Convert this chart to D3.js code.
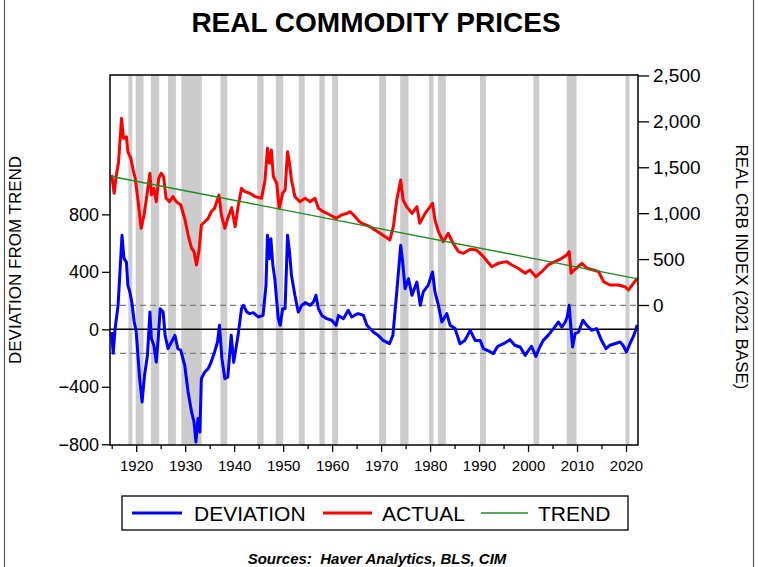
<!DOCTYPE html>
<html>
<head>
<meta charset="utf-8">
<script src="https://cdn.jsdelivr.net/npm/d3@7"></script>
<style>
  body { margin: 0; background: #fff; }
  svg { font-family: "Liberation Sans", Arial, sans-serif; }
</style>
</head>
<body>
<svg id="drawing_region"></svg>
<script>
// deviation from trend (left axis)
const devYears = [1915.0,1915.3,1915.7,1916.3,1917.1,1917.5,1918.0,1918.3,1918.7,1919.1,1919.6,1920.0,1920.7,1921.2,1921.7,1922.3,1922.8,1923.1,1923.6,1924.1,1924.5,1924.9,1925.5,1925.9,1926.5,1927.2,1927.9,1928.5,1929.1,1929.9,1930.6,1931.3,1931.8,1932.2,1932.6,1933.0,1933.3,1934.0,1934.7,1935.3,1936.0,1936.6,1937.0,1937.5,1938.1,1938.7,1939.4,1939.9,1940.8,1941.5,1941.9,1942.6,1943.2,1943.9,1944.9,1945.9,1946.5,1946.8,1947.2,1947.5,1947.9,1948.3,1949.0,1949.4,1949.9,1950.4,1950.9,1951.3,1951.7,1952.4,1953.1,1953.8,1954.5,1955.5,1956.2,1956.7,1957.2,1957.9,1958.9,1959.9,1960.8,1961.3,1962.3,1963.3,1964.0,1964.7,1965.3,1966.4,1967.1,1968.4,1969.4,1970.4,1971.7,1972.4,1973.2,1974.0,1974.4,1974.9,1975.6,1976.3,1977.3,1978.0,1978.6,1979.6,1980.5,1981.0,1981.7,1982.4,1983.4,1984.1,1985.1,1986.1,1987.1,1988.2,1989.2,1990.2,1990.9,1992.2,1992.9,1993.8,1995.0,1996.3,1997.3,1998.4,1999.4,2000.1,2000.7,2001.6,2002.4,2003.1,2004.1,2005.2,2006.2,2006.9,2007.6,2008.0,2008.4,2008.8,2009.1,2009.6,2010.3,2011.2,2012.0,2013.0,2014.0,2015.0,2015.9,2016.7,2017.7,2018.8,2019.4,2020.1,2020.8,2021.6,2022.3];
const devValues = [-19,-167,7,167,654,494,468,306,260,190,51,-19,-341,-505,-320,-181,120,-63,-111,-228,-63,144,120,-42,-134,-88,-42,-134,-146,-250,-436,-575,-645,-784,-621,-714,-343,-297,-274,-228,-158,-88,28,-204,-343,-332,-42,-230,-42,144,167,120,109,116,86,97,306,654,492,631,445,352,74,28,144,144,654,538,376,237,120,167,186,167,190,237,144,97,74,63,28,97,74,132,86,100,109,97,28,-19,-42,-77,-100,-42,260,585,468,283,352,237,329,167,260,306,399,260,167,51,109,28,5,-100,-77,-7,-77,-77,-134,-155,-170,-118,-100,-72,-111,-123,-181,-146,-118,-188,-123,-77,-42,5,51,16,51,86,167,-7,-123,-30,-19,63,28,-7,5,-77,-134,-111,-100,-88,-111,-158,-100,-42,30];

// real CRB index (right axis)
const actYears = [1915.0,1915.5,1915.9,1916.4,1917.0,1917.4,1918.0,1918.3,1918.9,1919.3,1919.8,1920.4,1921.0,1921.6,1922.1,1922.8,1923.1,1923.6,1924.1,1924.6,1925.1,1925.6,1926.1,1926.8,1927.5,1928.2,1929.1,1929.9,1930.6,1931.3,1931.8,1932.3,1932.8,1933.3,1934.0,1934.7,1935.3,1936.0,1936.9,1937.4,1938.1,1938.7,1939.5,1940.2,1940.8,1941.5,1942.2,1943.2,1944.3,1945.6,1946.3,1946.8,1947.2,1947.6,1948.0,1948.7,1949.2,1949.9,1950.4,1950.9,1951.3,1951.7,1952.4,1953.4,1954.5,1955.5,1956.5,1957.2,1958.2,1959.6,1960.9,1961.9,1963.0,1963.7,1964.7,1965.6,1966.5,1967.7,1969.8,1971.8,1972.5,1973.2,1974.0,1974.5,1975.2,1976.3,1977.3,1977.9,1979.0,1980.0,1980.5,1981.0,1981.7,1982.7,1983.7,1984.7,1985.8,1986.8,1988.2,1989.5,1990.9,1992.6,1993.9,1995.6,1996.7,1998.0,1999.4,2000.4,2001.6,2002.8,2004.1,2005.5,2006.9,2007.9,2008.4,2008.8,2009.4,2011.0,2012.0,2013.3,2014.4,2015.4,2016.7,2018.4,2019.8,2020.5,2021.5,2022.4];
const actValues = [1416,1217,1398,1561,2034,1816,1833,1670,1598,1489,1380,1125,835,980,1162,1435,1198,1271,1125,1380,1435,1398,1162,1125,1180,1125,1089,944,762,618,581,436,581,871,907,944,1016,1053,1198,980,835,944,1060,853,1071,1271,1234,1217,1180,1162,1362,1707,1544,1688,1398,1326,1053,1217,1253,1670,1544,1362,1180,1125,1162,1125,1162,1053,1016,980,944,980,998,1016,962,907,880,853,781,708,853,1144,1362,1144,1071,998,1071,890,998,1071,1108,926,799,690,781,672,581,563,608,599,526,417,454,472,436,400,345,381,308,363,436,472,508,545,581,345,381,454,400,381,363,254,218,218,199,163,236,290];

// trend (right axis), a straight line
const trendYears = [1915.0, 2022.4];
const trendValues = [1400, 285];

// recessions, shaded
const recStart = [1918.4,1919.9,1923.0,1926.5,1929.2,1937.2,1944.7,1948.5,1953.2,1957.4,1960.0,1969.6,1973.9,1979.8,1981.6,1990.2,2001.1,2007.9,2019.9];
const recEnd   = [1919.2,1921.5,1924.7,1928.1,1933.4,1938.6,1946.0,1950.0,1954.4,1958.5,1961.2,1971.0,1975.6,1980.7,1983.2,1991.4,2002.3,2009.9,2020.7];

const leftTicks = [-800, -400, 0, 400, 800];
const rightTicks = [0, 500, 1000, 1500, 2000, 2500];
const yearTicks = d3.range(1915, 2021, 5);
const bandLevel = 167;

const width = 759, height = 567;
const margin = {top: 75, right: 121, bottom: 122, left: 110};
const innerW = width - margin.left - margin.right;
const innerH = height - margin.top - margin.bottom;

const svg = d3.select('#drawing_region')
    .attr('width', width)
    .attr('height', height);

// outer frame
svg.append('rect')
    .attr('x', 4.5).attr('y', -2)
    .attr('width', 749).attr('height', height + 4)
    .attr('fill', 'none').attr('stroke', '#555').attr('stroke-width', 1.2);

svg.append('text')
    .attr('x', 376).attr('y', 32)
    .attr('text-anchor', 'middle')
    .style('font-size', '28px').style('font-weight', 'bold')
    .text('REAL COMMODITY PRICES');

const chart = svg.append('g')
    .attr('transform', `translate(${margin.left},${margin.top})`);

const x = d3.scaleLinear().domain([1914.65, 2022.45]).range([0, innerW]);
const yL = d3.scaleLinear().domain([-805, 1770]).range([innerH, 0]);
const yR = d3.scaleLinear().domain([-1525, 2505]).range([innerH, 0]);

chart.append('clipPath').attr('id', 'clip')
    .append('rect').attr('width', innerW).attr('height', innerH);

const plot = chart.append('g').attr('clip-path', 'url(#clip)');

plot.selectAll('.rec')
    .data(recStart.map((s, i) => [s, recEnd[i]]))
    .enter().append('rect')
    .attr('x', d => x(d[0]))
    .attr('width', d => x(d[1]) - x(d[0]))
    .attr('y', 0).attr('height', innerH)
    .attr('fill', '#cccccc');

// +/- band and zero line
[bandLevel, -bandLevel].forEach(v => {
    plot.append('line')
        .attr('x1', 0).attr('x2', innerW)
        .attr('y1', yL(v)).attr('y2', yL(v))
        .attr('stroke', '#808080').attr('stroke-width', 1.2)
        .attr('stroke-dasharray', '6,4');
});
plot.append('line')
    .attr('x1', 0).attr('x2', innerW)
    .attr('y1', yL(0)).attr('y2', yL(0))
    .attr('stroke', '#000').attr('stroke-width', 1.5);

const lineL = d3.line().x(d => x(d[0])).y(d => yL(d[1]));
const lineR = d3.line().x(d => x(d[0])).y(d => yR(d[1]));

plot.append('path')
    .datum(actYears.map((t, i) => [t, actValues[i]]))
    .attr('d', lineR)
    .attr('fill', 'none').attr('stroke', '#ff0000')
    .attr('stroke-width', 3).attr('stroke-linejoin', 'round');

plot.append('path')
    .datum(trendYears.map((t, i) => [t, trendValues[i]]))
    .attr('d', lineR)
    .attr('fill', 'none').attr('stroke', '#1e8c1e')
    .attr('stroke-width', 1.4);

plot.append('path')
    .datum(devYears.map((t, i) => [t, devValues[i]]))
    .attr('d', lineL)
    .attr('fill', 'none').attr('stroke', '#0000ff')
    .attr('stroke-width', 3).attr('stroke-linejoin', 'round');

// frame of plot
chart.append('rect')
    .attr('width', innerW).attr('height', innerH)
    .attr('fill', 'none').attr('stroke', '#000').attr('stroke-width', 1.5);

// axes
const yaxisL = d3.axisLeft(yL).tickValues(leftTicks).tickSize(8).tickPadding(3).tickSizeOuter(0);
const yaxisR = d3.axisRight(yR).tickValues(rightTicks).tickSize(11).tickPadding(4)
    .tickFormat(d3.format(',')).tickSizeOuter(0);
const xaxis = d3.axisBottom(x).tickValues(yearTicks).tickSize(7).tickPadding(8)
    .tickFormat(d => d % 10 === 0 ? d : '').tickSizeOuter(0);

const gl = chart.append('g').call(yaxisL);
gl.selectAll('text').style('font-size', '18px').attr('fill', '#000');
const gr = chart.append('g').attr('transform', `translate(${innerW},0)`).call(yaxisR);
gr.selectAll('text').style('font-size', '19px').attr('fill', '#000');
const gx = chart.append('g').attr('transform', `translate(0,${innerH})`).call(xaxis);
gx.selectAll('text').style('font-size', '15px').attr('fill', '#000');
gx.selectAll('.tick line').attr('y2', d => d % 10 === 0 ? 7 : 4);
[gl, gr, gx].forEach(g => {
    g.select('.domain').remove();
    g.selectAll('.tick line').attr('stroke', '#000').attr('stroke-width', 1.3);
});

// axis titles
svg.append('text')
    .attr('transform', 'translate(21,260) rotate(-90)')
    .attr('text-anchor', 'middle')
    .style('font-size', '17px')
    .text('DEVIATION FROM TREND');
svg.append('text')
    .attr('transform', 'translate(736,267) rotate(90)')
    .attr('text-anchor', 'middle')
    .style('font-size', '17px')
    .text('REAL CRB INDEX (2021 BASE)');

// legend
const legend = svg.append('g');
legend.append('rect')
    .attr('x', 122).attr('y', 496).attr('width', 506).attr('height', 34)
    .attr('fill', '#fff').attr('stroke', '#000').attr('stroke-width', 1.3);
const items = [
    {name: 'DEVIATION', color: '#0000ff', w: 3, x0: 132, x1: 182, tx: 194},
    {name: 'ACTUAL', color: '#ff0000', w: 3, x0: 323, x1: 372, tx: 382},
    {name: 'TREND', color: '#1e8c1e', w: 1.6, x0: 481, x1: 528, tx: 538}
];
items.forEach(d => {
    legend.append('line')
        .attr('x1', d.x0).attr('x2', d.x1).attr('y1', 513).attr('y2', 513)
        .attr('stroke', d.color).attr('stroke-width', d.w);
    legend.append('text')
        .attr('x', d.tx).attr('y', 520.5)
        .style('font-size', '21px')
        .text(d.name);
});

svg.append('text')
    .attr('x', 377).attr('y', 564)
    .attr('text-anchor', 'middle')
    .style('font-size', '15px').style('font-weight', 'bold').style('font-style', 'italic')
    .style('white-space', 'pre')
    .text('Sources:  Haver Analytics, BLS, CIM');
</script>
</body>
</html>
